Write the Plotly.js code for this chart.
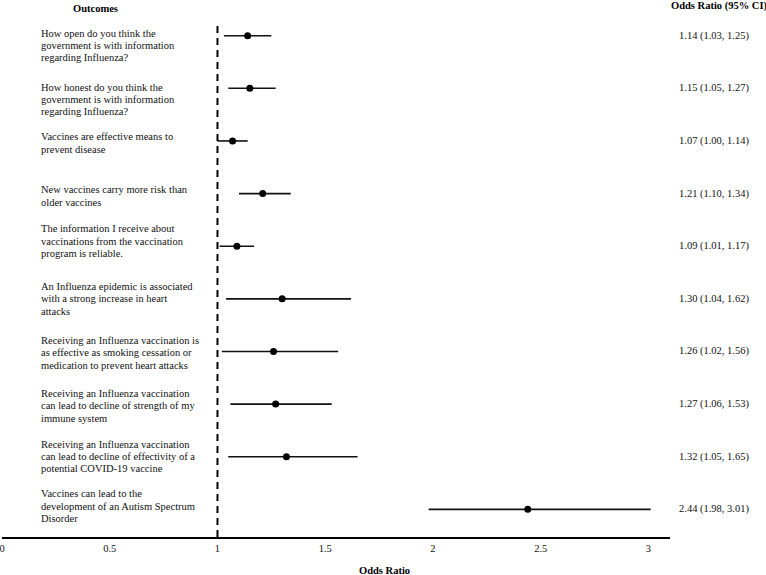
<!DOCTYPE html>
<html>
<head>
<meta charset="utf-8">
<script src="https://cdn.plot.ly/plotly-3.0.1.min.js"></script>
<style>html,body{margin:0;padding:0;background:#fff;}#chart{width:766px;height:575px;}</style>
</head>
<body>
<div id="chart"></div>
<script>
// ---- data ----
const outcomes = [
  "How open do you think the<br>government is with information<br>regarding Influenza?",
  "How honest do you think the<br>government is with information<br>regarding Influenza?",
  "Vaccines are effective means to<br>prevent disease",
  "New vaccines carry more risk than<br>older vaccines",
  "The information I receive about<br>vaccinations from the vaccination<br>program is reliable.",
  "An Influenza epidemic is associated<br>with a strong increase in heart<br>attacks",
  "Receiving an Influenza vaccination is<br>as effective as smoking cessation or<br>medication to prevent heart attacks",
  "Receiving an Influenza vaccination<br>can lead to decline of strength of my<br>immune system",
  "Receiving an Influenza vaccination<br>can lead to decline of effectivity of a<br>potential COVID-19 vaccine",
  "Vaccines can lead to the<br>development of an Autism Spectrum<br>Disorder"
];
const oddsRatio = [1.14, 1.15, 1.07, 1.21, 1.09, 1.30, 1.26, 1.27, 1.32, 2.44];
const ciLower   = [1.03, 1.05, 1.00, 1.10, 1.01, 1.04, 1.02, 1.06, 1.05, 1.98];
const ciUpper   = [1.25, 1.27, 1.14, 1.34, 1.17, 1.62, 1.56, 1.53, 1.65, 3.01];
const xTickVals = [0, 0.5, 1, 1.5, 2, 2.5, 3];
const xTickText = ["0", "0.5", "1", "1.5", "2", "2.5", "3"];

// ---- style (layout only) ----
const FONT = "Liberation Serif, Times New Roman, serif";
const labelFirstLineShift = [-2.4, -1.3, -4, -3.6, -17.3, -12.2, -10.8, -10.7, -12.5, -15.5];
const lineStep = 12.3;

const rows = oddsRatio.map((_, i) => i);
const fmt = v => v.toFixed(2);

const trace = {
  type: "scatter",
  mode: "markers",
  x: oddsRatio,
  y: rows,
  marker: {color: "#000", size: 7},
  error_x: {
    type: "data",
    symmetric: false,
    array: oddsRatio.map((v, i) => ciUpper[i] - v),
    arrayminus: oddsRatio.map((v, i) => v - ciLower[i]),
    color: "#111",
    thickness: 1.6,
    width: 0
  },
  hoverinfo: "skip",
  showlegend: false
};

const annotations = [];
outcomes.forEach((lab, i) => {
  lab.split("<br>").forEach((line, j) => {
    annotations.push({
      text: line, xref: "x", yref: "y", x: 0.174, y: rows[i],
      xanchor: "left", yanchor: "middle", showarrow: false,
      yshift: -(labelFirstLineShift[i] + j * lineStep),
      font: {family: FONT, size: 10.5, color: "#111"}
    });
  });
  annotations.push({
    text: fmt(oddsRatio[i]) + " (" + fmt(ciLower[i]) + ", " + fmt(ciUpper[i]) + ")",
    xref: "paper", yref: "y", x: 1.066, y: rows[i],
    xanchor: "center", yanchor: "middle", showarrow: false,
    font: {family: FONT, size: 10.5, color: "#111"}
  });
});
annotations.push({
  text: "<b>Outcomes</b>", xref: "paper", yref: "paper", x: 0.1407, y: 1.027,
  xanchor: "center", yanchor: "middle", showarrow: false,
  font: {family: FONT, size: 10.5, color: "#000"}
});
annotations.push({
  text: "<b>Odds Ratio (95% CI)</b>", xref: "paper", yref: "paper", x: 1.074, y: 1.031,
  xanchor: "center", yanchor: "middle", showarrow: false,
  font: {family: FONT, size: 10.5, color: "#000"}
});
annotations.push({
  text: "<b>Odds Ratio</b>", xref: "paper", yref: "paper", x: 0.573, y: -0.066,
  xanchor: "center", yanchor: "middle", showarrow: false,
  font: {family: FONT, size: 10.5, color: "#000"}
});

const layout = {
  width: 766, height: 575,
  margin: {l: 2, r: 96, t: 22, b: 38},
  paper_bgcolor: "#fff", plot_bgcolor: "#fff",
  xaxis: {
    range: [0, 3.1], tickvals: xTickVals, ticktext: xTickText,
    showline: true, linewidth: 2, linecolor: "#000",
    showgrid: false, zeroline: false, ticks: "",
    ticklabeloverflow: "allow",
    tickfont: {family: FONT, size: 10.5, color: "#111"},
    fixedrange: true
  },
  yaxis: {
    range: [9.525, -0.26], visible: false, showgrid: false, zeroline: false, fixedrange: true
  },
  shapes: [{
    type: "line", xref: "x", yref: "paper", x0: 1, x1: 1, y0: 0, y1: 1,
    line: {color: "#000", width: 2, dash: "7px,5px"}
  }],
  annotations: annotations
};

Plotly.newPlot("chart", [trace], layout, {displayModeBar: false, staticPlot: true});
</script>
</body>
</html>
